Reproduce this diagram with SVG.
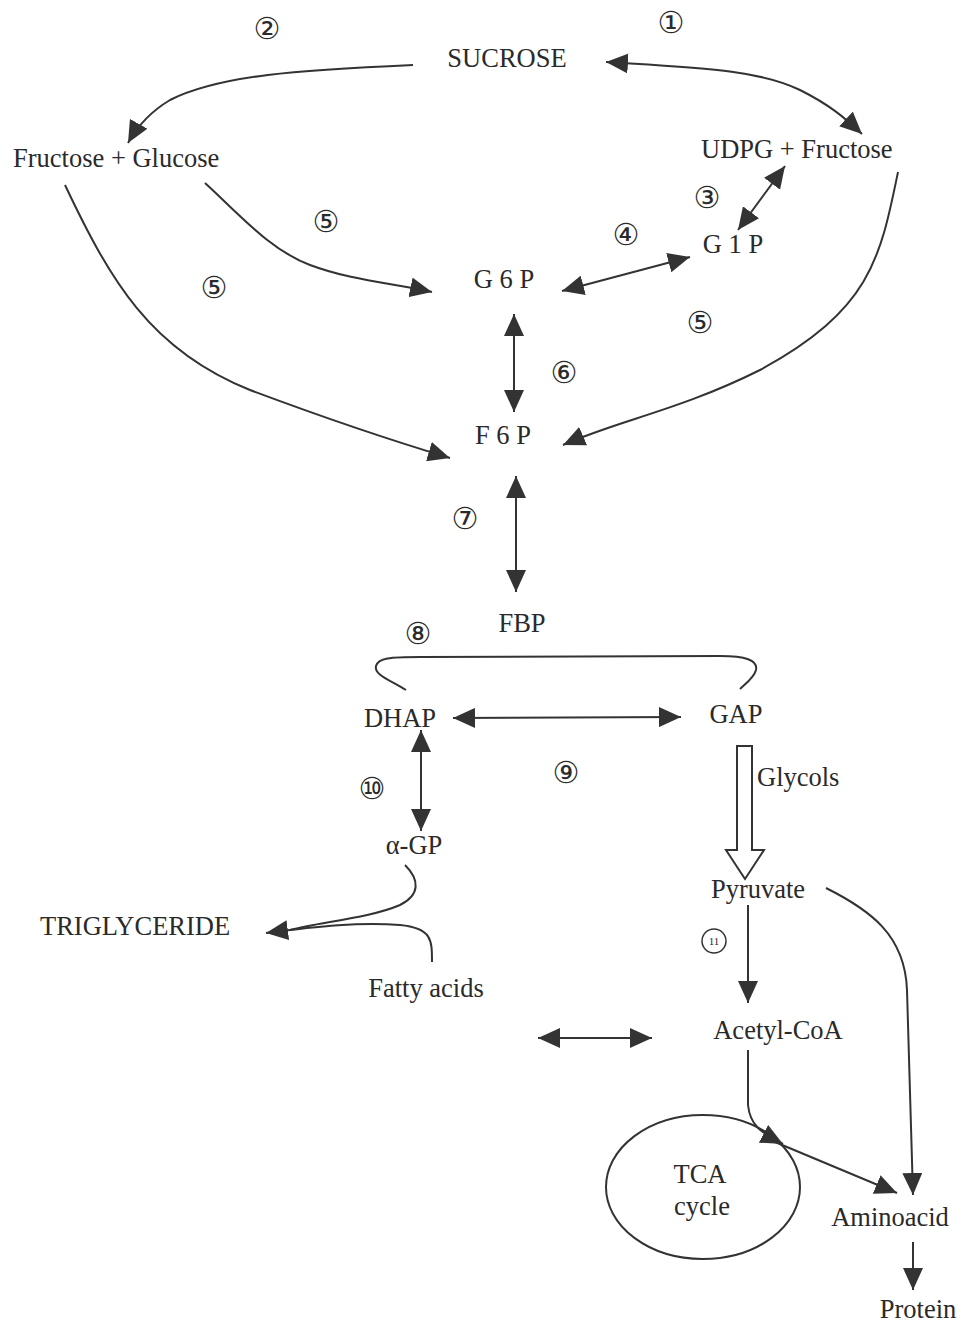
<svg xmlns="http://www.w3.org/2000/svg" width="965" height="1322" viewBox="0 0 965 1322">
<style>
.t{font-family:"Liberation Serif","Times New Roman",serif;font-size:26.5px;fill:#2a2a2a}
.n{font-family:"DejaVu Sans",sans-serif;font-size:30px;fill:#2a2a2a;text-anchor:middle}
.c{fill:none;stroke:#333;stroke-width:2}
.a{marker-end:url(#ah)}
.b{marker-start:url(#ah);marker-end:url(#ah)}
</style>
<defs>
<marker id="ah" markerUnits="userSpaceOnUse" markerWidth="24" markerHeight="20" refX="22" refY="10" orient="auto-start-reverse" viewBox="0 0 24 20">
<path d="M0,0 L22,10 L0,20 z" fill="#333"/>
</marker>
</defs>
<rect width="965" height="1322" fill="#fff"/>
<g id="connectors">
<path class="c a" d="M413,65 C300,70 220,75 170,100 C150,112 138,125 128,143"/>
<path class="c b" d="M606,62 C700,68 760,70 800,90 C830,105 845,118 862,134"/>
<path class="c a" d="M65,185 C110,280 150,350 250,390 C330,420 390,440 450,458"/>
<path class="c a" d="M205,183 C240,215 270,250 310,265 C350,280 390,283 432,292"/>
<path class="c a" d="M898,172 C880,260 870,310 760,370 C680,410 620,420 563,445"/>
<path class="c b" d="M562,291 L690,257"/>
<path class="c b" d="M738,230 L785,166"/>
<path class="c b" d="M514,314 L514,412"/>
<path class="c b" d="M516,476 L516,592"/>
<path class="c" d="M406,690 C390,680 374,675 376,666 C378,658 390,657 420,657 L720,656 C745,656 758,660 756,670 C754,678 745,684 740,689"/>
<path class="c b" d="M453,718 L681,717"/>
<path class="c b" d="M421,730 L421,831"/>
<path d="M737,746 L752,746 L752,850 L764,850 L745,879 L726,850 L737,850 Z" fill="#fff" stroke="#333" stroke-width="2"/>
<path class="c a" d="M748,905 L748,1003"/>
<path class="c a" d="M826,888 C870,910 905,935 907,990 L913,1195"/>
<path class="c" d="M405,865 C420,880 420,895 400,905 C370,918 320,922 290,930"/>
<path class="c a" d="M432,962 C432,940 432,928 400,925 C360,922 320,926 266,933"/>
<path class="c b" d="M538,1038 L652,1038"/>
<path class="c a" d="M748,1050 L748,1105 C750,1125 760,1132 783,1144"/>
<path class="c a" d="M775,1142 L897,1193"/>
<path class="c a" d="M913,1242 L913,1290"/>
</g>
<g id="n1"><text class="n" x="671" y="33">①</text></g>
<g id="n2"><text class="n" x="267" y="39">②</text></g>
<g id="sucrose"><text class="t" x="507" y="67" text-anchor="middle">SUCROSE</text></g>
<g id="fructose-glucose"><text class="t" x="13" y="167">Fructose + Glucose</text></g>
<g id="udpg-fructose"><text class="t" x="701" y="158">UDPG + Fructose</text></g>
<g id="n3"><text class="n" x="707" y="208">③</text></g>
<g id="g1p"><text class="t" x="733" y="253" text-anchor="middle">G 1 P</text></g>
<g id="n4"><text class="n" x="626" y="245">④</text></g>
<g id="n5a"><text class="n" x="326" y="232">⑤</text></g>
<g id="n5b"><text class="n" x="214" y="298">⑤</text></g>
<g id="n5c"><text class="n" x="700" y="333">⑤</text></g>
<g id="g6p"><text class="t" x="504" y="288" text-anchor="middle">G 6 P</text></g>
<g id="n6"><text class="n" x="564" y="383">⑥</text></g>
<g id="f6p"><text class="t" x="503" y="444" text-anchor="middle">F 6 P</text></g>
<g id="n7"><text class="n" x="465" y="529">⑦</text></g>
<g id="fbp"><text class="t" x="522" y="632" text-anchor="middle">FBP</text></g>
<g id="n8"><text class="n" x="418" y="644">⑧</text></g>
<g id="dhap"><text class="t" x="400" y="727" text-anchor="middle">DHAP</text></g>
<g id="gap"><text class="t" x="736" y="723" text-anchor="middle">GAP</text></g>
<g id="n9"><text class="n" x="566" y="783">⑨</text></g>
<g id="n10"><text class="n" x="372" y="799">⑩</text></g>
<g id="glycols"><text class="t" x="757" y="786">Glycols</text></g>
<g id="agp"><text class="t" x="414" y="854" text-anchor="middle">α-GP</text></g>
<g id="triglyceride"><text class="t" x="40" y="935">TRIGLYCERIDE</text></g>
<g id="pyruvate"><text class="t" x="758" y="898" text-anchor="middle">Pyruvate</text></g>
<g id="n11"><circle cx="714" cy="941" r="12" fill="none" stroke="#333" stroke-width="1.5"/><text x="714" y="945" font-family="Liberation Serif,serif" font-size="11" text-anchor="middle" fill="#2a2a2a">11</text></g>
<g id="fatty-acids"><text class="t" x="426" y="997" text-anchor="middle">Fatty acids</text></g>
<g id="acetyl-coa"><text class="t" x="778" y="1039" text-anchor="middle">Acetyl-CoA</text></g>
<g id="tca"><ellipse cx="703" cy="1187" rx="97" ry="72" fill="none" stroke="#333" stroke-width="2"/><text class="t" x="700" y="1183" text-anchor="middle">TCA</text><text class="t" x="702" y="1215" text-anchor="middle">cycle</text></g>
<g id="aminoacid"><text class="t" x="890" y="1226" text-anchor="middle">Aminoacid</text></g>
<g id="protein"><text class="t" x="918" y="1318" text-anchor="middle">Protein</text></g>
</svg>
